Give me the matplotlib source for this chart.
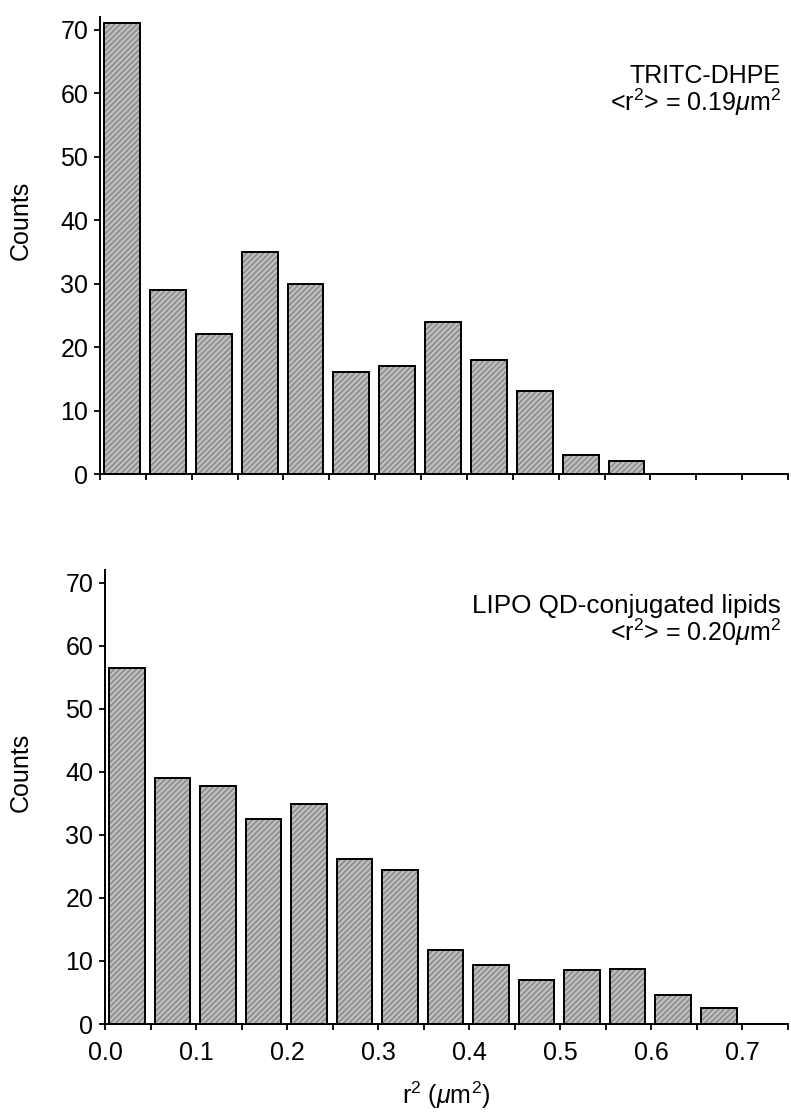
import numpy as np
import matplotlib
matplotlib.use("Agg")
import matplotlib.pyplot as plt
from matplotlib.ticker import MultipleLocator

plt.rcParams['font.family'] = ['Liberation Sans', 'DejaVu Sans']
plt.rcParams['mathtext.fontset'] = 'custom'
plt.rcParams['mathtext.rm'] = 'Liberation Sans'
plt.rcParams['mathtext.it'] = 'Liberation Sans:italic'
plt.rcParams['mathtext.bf'] = 'Liberation Sans:bold'
plt.rcParams['hatch.linewidth'] = 1.3

# ---- data ----
bin_starts = [0.00, 0.05, 0.10, 0.15, 0.20, 0.25, 0.30, 0.35, 0.40, 0.45,
              0.50, 0.55, 0.60, 0.65, 0.70]
counts_tritc = [71, 29, 22, 35, 30, 16, 17, 24, 18, 13, 3, 2, 0, 0, 0]
counts_lipo = [56.5, 39, 37.8, 32.5, 34.9, 26.1, 24.4, 11.7, 9.4, 6.9,
               8.5, 8.8, 4.6, 2.6, 0]
label_tritc = ["TRITC-DHPE", r"<r$^2$> = 0.19$\mu$m$^2$"]
label_lipo = ["LIPO QD-conjugated lipids", r"<r$^2$> = 0.20$\mu$m$^2$"]
x_major_ticks = [0.0, 0.1, 0.2, 0.3, 0.4, 0.5, 0.6, 0.7]
y_ticks = [0, 10, 20, 30, 40, 50, 60, 70]

W, H = 791, 1115
fig = plt.figure(figsize=(W / 100, H / 100), dpi=100)

def px_rect(l, r, b, t):
    return [l / W, 1 - b / H, (r - l) / W, (b - t) / H]

ax1 = fig.add_axes(px_rect(100, 788, 474, 17))
ax2 = fig.add_axes(px_rect(105, 788, 1024, 570))

BAR_OFF = 0.0045
BAR_W = 0.039
FS = 18

def draw(ax, vals, show_labels):
    lefts = np.array(bin_starts) + BAR_OFF
    v = np.array(vals, dtype=float)
    mask = v > 0
    ax.bar(lefts[mask], v[mask], width=BAR_W, align='edge',
           facecolor='#c2c2c2', edgecolor='#8e8e8e', hatch='//////',
           linewidth=0, zorder=2)
    ax.bar(lefts[mask], v[mask], width=BAR_W, align='edge',
           facecolor='none', edgecolor='black', linewidth=1.4, zorder=3)
    ax.set_xlim(0, 0.75)
    ax.set_ylim(0, 72)
    ax.spines['top'].set_visible(False)
    ax.spines['right'].set_visible(False)
    for s in ('left', 'bottom'):
        ax.spines[s].set_linewidth(1.4)
    ax.set_yticks(y_ticks)
    ax.xaxis.set_minor_locator(MultipleLocator(0.05))
    ax.set_xticks(x_major_ticks)
    ax.tick_params(axis='both', which='both', direction='out', length=4.5,
                   width=1.3, labelsize=FS)
    ax.tick_params(axis='y', pad=4)
    ax.tick_params(axis='x', pad=8)
    if show_labels:
        ax.set_xticklabels([f"{t:.1f}" for t in x_major_ticks])
    else:
        ax.set_xticklabels([])
    ax.set_ylabel("Counts", fontsize=FS)

draw(ax1, counts_tritc, False)
draw(ax2, counts_lipo, True)
ax1.yaxis.set_label_coords((33 - 100) / 688, 0.556)
ax2.yaxis.set_label_coords((33 - 105) / 683, 0.555)
ax2.set_xlabel(r"r$^2$ ($\mu$m$^2$)", fontsize=FS, labelpad=10)

# annotations (pixel baselines)
for (lines, y1, y2, fs1) in ((label_tritc, 83, 111, FS), (label_lipo, 613, 641, 18.8)):
    fig.text(781 / W, 1 - y1 / H, lines[0], ha='right', va='baseline', fontsize=fs1)
    fig.text(781 / W, 1 - y2 / H, lines[1], ha='right', va='baseline', fontsize=FS)

fig.savefig("out.png", dpi=100)
